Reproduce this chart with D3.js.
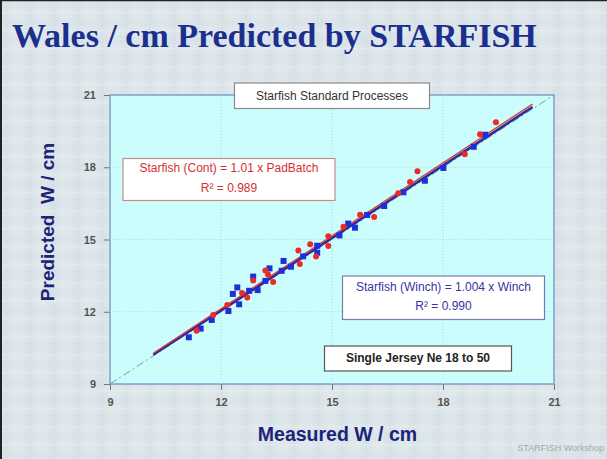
<!DOCTYPE html>
<html><head><meta charset="utf-8">
<script src="https://cdn.jsdelivr.net/npm/d3@7"></script>
<style>body{margin:0;padding:0;}svg{display:block;}</style>
</head><body>
<script>
const titleText = "Wales / cm Predicted by STARFISH";
const ticks = [9, 12, 15, 18, 21];
// Starfish (Winch) — blue squares
const winchX = [11.13,11.45,11.75,12.20,12.32,12.44,12.49,12.76,12.87,12.99,13.31,13.20,13.64,13.69,13.89,14.22,14.60,14.60,15.20,15.44,15.62,15.95,16.41,16.93,17.51,18.01,18.83,19.14];
const winchY = [10.94,11.30,11.66,12.03,12.74,13.01,12.31,12.87,13.46,12.90,13.80,13.28,13.70,14.11,13.87,14.30,14.74,14.45,15.17,15.66,15.49,16.02,16.39,16.96,17.44,17.97,18.85,19.35];
// Starfish (Cont) — red circles
const contX = [11.34,11.79,12.17,12.57,12.71,12.87,13.20,13.27,13.41,14.09,14.13,14.41,14.57,14.90,14.90,15.31,15.76,16.14,16.79,17.11,17.31,18.59,19.00,19.43];
const contY = [11.21,11.86,12.28,12.78,12.59,13.30,13.71,13.55,13.24,14.54,13.98,14.80,14.29,15.13,14.73,15.53,16.03,15.93,16.92,17.39,17.83,18.54,19.37,19.87];
const contSlope = 1.01, winchSlope = 1.004;
const fitRange = [10.17, 20.42];

const W = 607, H = 459;
const svg = d3.select("body").append("svg").attr("width", W).attr("height", H);
const defs = svg.append("defs");
const pat = defs.append("pattern").attr("id","tex").attr("width",24).attr("height",18).attr("patternUnits","userSpaceOnUse");
pat.append("rect").attr("width",24).attr("height",18).attr("fill","#dce6ea");
pat.append("rect").attr("x",0).attr("y",0).attr("width",11).attr("height",8).attr("fill","#d8e2e7");
pat.append("rect").attr("x",12).attr("y",9).attr("width",12).attr("height",9).attr("fill","#e0e8ec");
pat.append("rect").attr("x",5).attr("y",0).attr("width",2).attr("height",18).attr("fill","#d6e0e5");
pat.append("rect").attr("x",0).attr("y",12).attr("width",24).attr("height",1.5).attr("fill","#e2eaed");
svg.append("rect").attr("width",W).attr("height",H).attr("fill","url(#tex)");
svg.append("line").attr("x1",0).attr("y1",0.5).attr("x2",W).attr("y2",0.5).attr("stroke","#222").attr("stroke-width",1.5);
svg.append("line").attr("x1",1).attr("y1",0).attr("x2",1).attr("y2",H).attr("stroke","#222").attr("stroke-width",2);

svg.append("text").attr("x",12).attr("y",47).attr("font-family","Liberation Serif, Times New Roman, serif")
  .attr("font-weight","bold").attr("font-size",34).attr("fill","#1b2f8f").text(titleText);

const x = d3.scaleLinear().domain([9,21]).range([110,554]);
const y = d3.scaleLinear().domain([9,21]).range([384,95]);

svg.append("rect").attr("x",x(9)).attr("y",y(21)).attr("width",x(21)-x(9)).attr("height",y(9)-y(21))
  .attr("fill","#ccfdfd").attr("stroke","#7f9fc8").attr("stroke-width",1.5);

// grid
const g = svg.append("g");
g.selectAll(".gx").data(ticks.slice(1,-1)).join("line").attr("x1",d=>x(d)).attr("x2",d=>x(d)).attr("y1",y(21)).attr("y2",y(9))
  .attr("stroke","#a9d9dc").attr("stroke-dasharray","1,2").attr("stroke-width",1);
g.selectAll(".gy").data(ticks.slice(1,-1)).join("line").attr("y1",d=>y(d)).attr("y2",d=>y(d)).attr("x1",x(9)).attr("x2",x(21))
  .attr("stroke","#a9d9dc").attr("stroke-dasharray","1,2").attr("stroke-width",1);

const xAxis = svg.append("g").attr("transform",`translate(0,${y(9)})`).call(d3.axisBottom(x).tickValues(ticks).tickSize(6).tickPadding(8));
const yAxis = svg.append("g").attr("transform",`translate(${x(9)},0)`).call(d3.axisLeft(y).tickValues(ticks).tickSize(6).tickPadding(8));
[xAxis,yAxis].forEach(a=>{
  a.select(".domain").remove();
  a.selectAll(".tick line").attr("stroke","#777");
  a.selectAll(".tick text").attr("font-family","Liberation Sans, Arial, sans-serif").attr("font-size",11).attr("font-weight","bold").attr("fill","#555");
});

// identity line
svg.append("line").attr("x1",x(9)).attr("y1",y(9)).attr("x2",x(21)).attr("y2",y(21))
  .attr("stroke","#7a9e9e").attr("stroke-width",1).attr("stroke-dasharray","8,3,2,3");

// fit lines
svg.append("line").attr("x1",x(fitRange[0])).attr("y1",y(fitRange[0]*winchSlope)).attr("x2",x(fitRange[1])).attr("y2",y(fitRange[1]*winchSlope))
  .attr("stroke","#2a2a9a").attr("stroke-width",2.4);
svg.append("line").attr("x1",x(fitRange[0])).attr("y1",y(fitRange[0]*contSlope)).attr("x2",x(fitRange[1])).attr("y2",y(fitRange[1]*contSlope))
  .attr("stroke","#d8303a").attr("stroke-width",1.5).attr("opacity",0.9);

// points
const sq = 6;
svg.append("g").selectAll("rect").data(winchX.map((v,i)=>[v,winchY[i]])).join("rect")
  .attr("x",d=>x(d[0])-sq/2).attr("y",d=>y(d[1])-sq/2).attr("width",sq).attr("height",sq).attr("fill","#1f2fd6");
svg.append("g").selectAll("circle").data(contX.map((v,i)=>[v,contY[i]])).join("circle")
  .attr("cx",d=>x(d[0])).attr("cy",d=>y(d[1])).attr("r",3).attr("fill","#ec2a2a");

// boxes
function box(x0,y0,x1,y1,stroke,lines,color,bold,size){
  svg.append("rect").attr("x",x0).attr("y",y0).attr("width",x1-x0).attr("height",y1-y0).attr("fill","#fff").attr("stroke",stroke).attr("stroke-width",1.2);
  lines.forEach(l=>{
    svg.append("text").attr("x",(x0+x1)/2).attr("y",l[1]).attr("text-anchor","middle").attr("dominant-baseline","central")
      .attr("font-family","Liberation Sans, Arial, sans-serif").attr("font-size",size).attr("font-weight",bold?"bold":"normal").attr("fill",color).text(l[0]);
  });
}
box(234.5,83,429.5,108.5,"#8a8a8a",[["Starfish Standard Processes",96]],"#333",false,12);
box(123,158.5,335,200.5,"#c98a8a",[["Starfish (Cont) = 1.01 x PadBatch",168],["R² = 0.989",187.5]],"#d43030",false,12);
box(342.5,276,544.5,319.5,"#7a7ab0",[["Starfish (Winch) = 1.004 x Winch",287],["R² = 0.990",306]],"#3535a5",false,12);
box(324.5,346,511.5,371,"#555",[["Single Jersey Ne  18 to 50",358]],"#222",true,12);

// axis titles
svg.append("text").attr("x",337.5).attr("y",441).attr("text-anchor","middle").attr("font-family","Liberation Sans, Arial, sans-serif")
  .attr("font-weight","bold").attr("font-size",19.5).attr("fill","#1b237a").text("Measured W / cm");
svg.append("text").attr("transform","translate(54,222) rotate(-90)").attr("text-anchor","middle").attr("font-family","Liberation Sans, Arial, sans-serif")
  .attr("font-weight","bold").attr("font-size",19).attr("fill","#1b237a").attr("xml:space","preserve").style("white-space","pre").text("Predicted  W / cm");

svg.append("text").attr("x",604).attr("y",451).attr("text-anchor","end").attr("font-family","Liberation Sans, Arial, sans-serif")
  .attr("font-size",9).attr("fill","#9aa").text("STARFISH Workshop");
</script>
</body></html>
